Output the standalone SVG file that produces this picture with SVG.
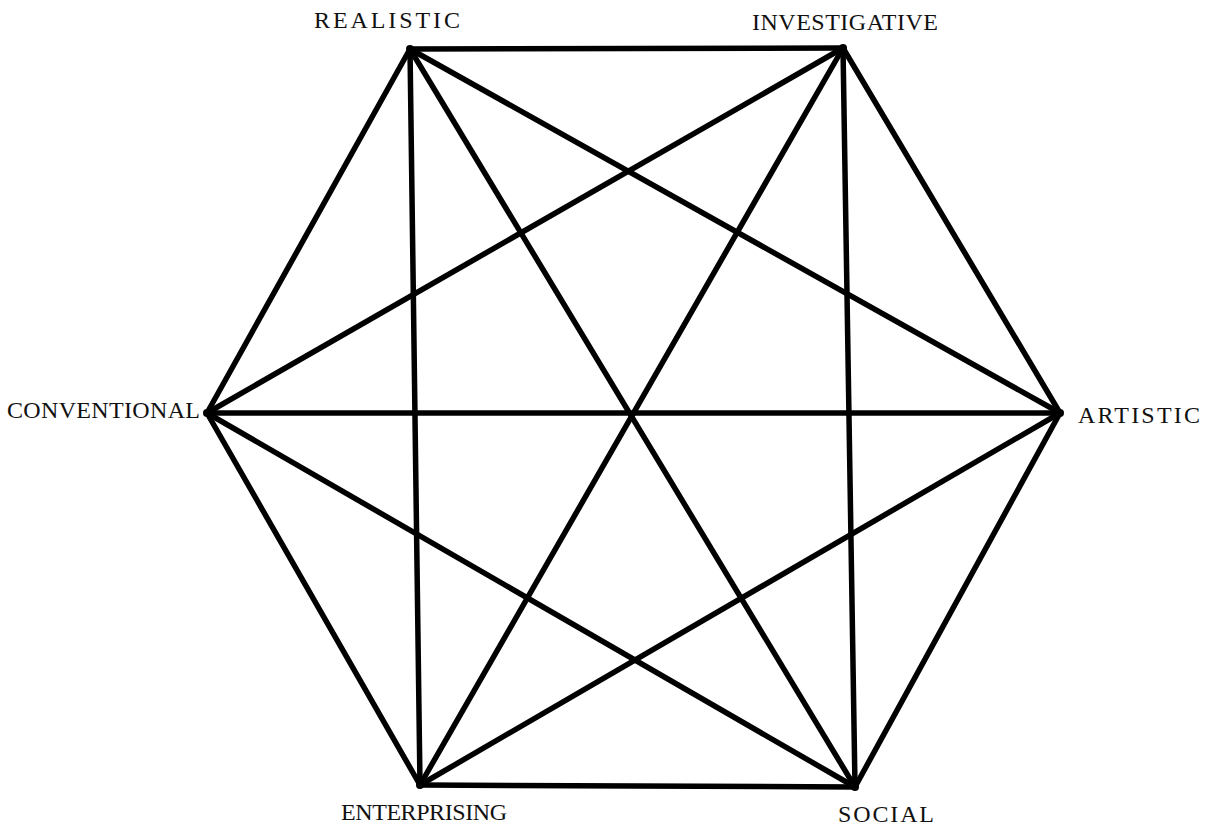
<svg xmlns="http://www.w3.org/2000/svg" width="1210" height="831" viewBox="0 0 1210 831">
<style>
.e{stroke:#000;stroke-width:5.5;stroke-linecap:round;fill:none}
.t{font-family:"Liberation Serif","Times New Roman",serif;font-size:24px;fill:#111}
</style>
<rect width="1210" height="831" fill="#fff"/>
<g id="connectors">
<line class="e" x1="410" y1="49" x2="843" y2="48"/>
<line class="e" x1="410" y1="49" x2="207" y2="413"/>
<line class="e" x1="410" y1="49" x2="1060" y2="413"/>
<line class="e" x1="410" y1="49" x2="420" y2="785"/>
<line class="e" x1="410" y1="49" x2="855" y2="787"/>
<line class="e" x1="843" y1="48" x2="207" y2="413"/>
<line class="e" x1="843" y1="48" x2="1060" y2="413"/>
<line class="e" x1="843" y1="48" x2="420" y2="785"/>
<line class="e" x1="843" y1="48" x2="855" y2="787"/>
<line class="e" x1="207" y1="413" x2="1060" y2="413"/>
<line class="e" x1="207" y1="413" x2="420" y2="785"/>
<line class="e" x1="207" y1="413" x2="855" y2="787"/>
<line class="e" x1="1060" y1="413" x2="420" y2="785"/>
<line class="e" x1="1060" y1="413" x2="855" y2="787"/>
<line class="e" x1="420" y1="785" x2="855" y2="787"/>
</g>
<g id="realistic"><circle cx="410" cy="49" r="4"/><text class="t" x="314" y="28" textLength="146" lengthAdjust="spacing">REALISTIC</text></g>
<g id="investigative"><circle cx="843" cy="48" r="4"/><text class="t" x="752" y="30" textLength="186" lengthAdjust="spacing">INVESTIGATIVE</text></g>
<g id="conventional"><circle cx="207" cy="413" r="4"/><text class="t" x="7" y="418" textLength="193" lengthAdjust="spacing">CONVENTIONAL</text></g>
<g id="artistic"><circle cx="1060" cy="413" r="4"/><text class="t" x="1078" y="423" textLength="122" lengthAdjust="spacing">ARTISTIC</text></g>
<g id="enterprising"><circle cx="420" cy="785" r="4"/><text class="t" x="341" y="820" textLength="166" lengthAdjust="spacing">ENTERPRISING</text></g>
<g id="social"><circle cx="855" cy="787" r="4"/><text class="t" x="838" y="822" textLength="96" lengthAdjust="spacing">SOCIAL</text></g>
</svg>
